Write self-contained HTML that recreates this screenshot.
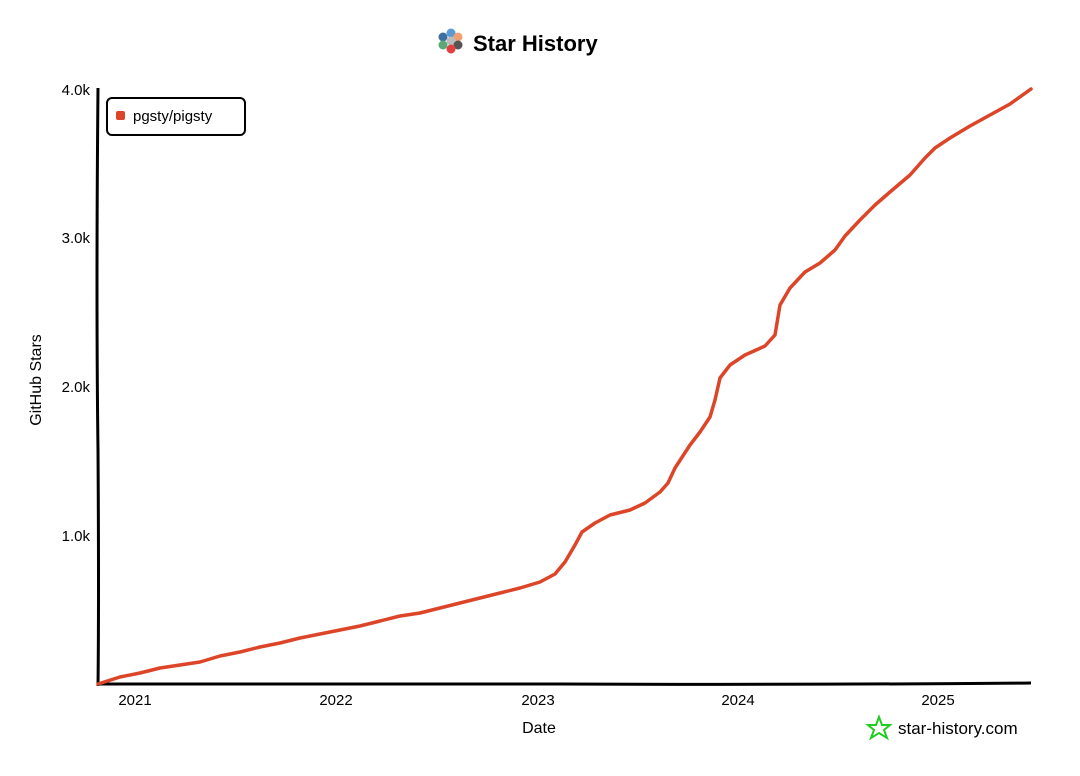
<!DOCTYPE html>
<html><head><meta charset="utf-8"><style>
body{margin:0;background:#fff;}
svg text{font-family:"Liberation Sans",sans-serif;fill:#000;}
</style></head><body>
<svg width="1080" height="771" viewBox="0 0 1080 771" xmlns="http://www.w3.org/2000/svg">
<rect width="1080" height="771" fill="#fff"/>
<g>
<circle cx="451" cy="33" r="4.5" fill="#5b9bd5"/>
<circle cx="443" cy="37" r="4.5" fill="#3d6fa0"/>
<circle cx="458" cy="37" r="4.5" fill="#f0a070"/>
<circle cx="451" cy="41" r="4.5" fill="#bbb"/>
<circle cx="443" cy="45" r="4.5" fill="#5aaa77"/>
<circle cx="458" cy="45" r="4.5" fill="#555"/>
<circle cx="451" cy="49" r="4.5" fill="#e04040"/>
</g>
<text x="473" y="51" font-size="22" font-weight="bold">Star History</text>
<path d="M98 88 Q96 300 98 450 Q99 600 98 686" stroke="#000" stroke-width="3" fill="none"/>
<path d="M97 684 Q300 683 560 684 Q800 685 1031 683" stroke="#000" stroke-width="3" fill="none"/>
<g font-size="15" text-anchor="end">
<text x="90" y="95">4.0k</text>
<text x="90" y="243">3.0k</text>
<text x="90" y="392">2.0k</text>
<text x="90" y="541">1.0k</text>
</g>
<g font-size="15" text-anchor="middle">
<text x="135" y="705">2021</text>
<text x="336" y="705">2022</text>
<text x="538" y="705">2023</text>
<text x="738" y="705">2024</text>
<text x="938" y="705">2025</text>
<text x="539" y="733" font-size="16">Date</text>
</g>
<text transform="translate(41,380) rotate(-90)" font-size="16" text-anchor="middle">GitHub Stars</text>
<rect x="107" y="98" width="138" height="37" rx="5" fill="#fff" stroke="#000" stroke-width="2"/>
<rect x="116" y="111" width="9" height="9" rx="2" fill="#dd4528"/>
<text x="133" y="121" font-size="15">pgsty/pigsty</text>
<polyline fill="none" stroke="#dd4528" stroke-width="3.5" stroke-linejoin="round" stroke-linecap="round"
points="98,684 120,677 140,673 160,668 180,665 200,662 220,656 240,652 260,647 280,643 300,638 320,634 340,630 360,626 380,621 400,616 420,613 440,608 460,603 480,598 500,593 520,588 540,582 555,574 565,562 575,545 582,532 595,523 610,515 630,510 645,503 660,492 668,483 675,468 690,445 700,432 710,417 715,400 720,378 730,365 745,355 765,346 775,335 780,305 790,288 805,272 820,263 835,250 845,236 860,220 875,205 890,192 910,175 925,158 935,148 950,138 970,126 990,115 1010,104 1031,89"/>
<polygon points="879,717 882,725 890,725 884,730 887,738 879,733 871,738 874,730 868,725 876,725" fill="none" stroke="#22cc22" stroke-width="2"/>
<text x="898" y="734" font-size="17" fill="#333">star-history.com</text>
</svg>
</body></html>
